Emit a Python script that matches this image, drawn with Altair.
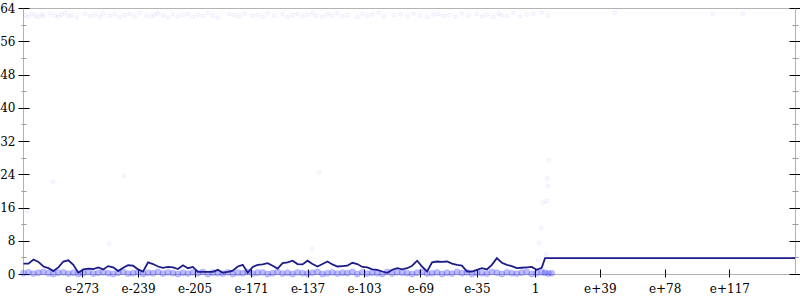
import altair as alt
import pandas as pd

# ---- data (x = decimal exponent, y = value) ----
line_x = [-308, -305, -302, -299, -296, -293, -290, -287, -284, -281,
          -278, -275, -272, -269, -266, -263, -260, -257, -254, -251,
          -248, -245, -242, -239, -236, -233, -230, -227, -224, -221,
          -218, -215, -212, -209, -206, -203, -200, -197, -194, -191,
          -188, -185, -182, -179, -176, -173, -170, -167, -164, -161,
          -158, -155, -152, -149, -146, -143, -140, -137, -134, -131,
          -128, -125, -122, -119, -116, -113, -110, -107, -104, -101,
          -98, -95, -92, -89, -86, -83, -80, -77, -74, -71,
          -68, -65, -62, -59, -56, -53, -50, -47, -44, -41,
          -38, -35, -32, -29, -26, -23, -20, -17, -14, -11,
          -8, -5, -2, 1, 4, 6, 156.5]
line_y = [2.5, 2.5, 3.5, 2.9, 1.8, 1.4, 0.7, 1.6, 3.0, 3.3,
          2.2, 0.3, 1.1, 1.3, 1.2, 1.6, 1.1, 1.9, 1.6, 0.7,
          1.5, 2.1, 2.0, 1.1, 0.6, 2.8, 2.4, 1.8, 1.5, 1.7,
          1.6, 1.2, 2.1, 1.4, 1.7, 0.5, 0.5, 0.5, 0.5, 1.0,
          0.3, 0.5, 0.8, 1.8, 2.2, 0.3, 1.7, 2.2, 2.3, 2.6,
          2.0, 1.3, 2.6, 2.8, 3.2, 2.4, 2.3, 3.2, 2.4, 1.8,
          2.4, 3.0, 2.3, 1.8, 1.9, 2.0, 2.7, 2.4, 1.7, 1.6,
          1.1, 1.0, 0.6, 0.3, 1.0, 1.4, 1.1, 1.4, 2.0, 3.2,
          1.8, 0.6, 2.8, 3.0, 2.9, 3.0, 2.5, 2.2, 2.0, 0.6,
          0.6, 1.0, 1.4, 1.1, 2.2, 3.8, 2.7, 2.2, 1.9, 1.4,
          1.5, 1.6, 1.7, 1.0, 1.5, 3.8, 3.8]

top_x = [-307, -305, -303, -301, -299, -297, -296, -292, -289, -287,
         -285, -283, -281, -279, -276, -271, -268, -265, -262, -260,
         -256, -253, -250, -247, -244, -241, -238, -234, -231, -229,
         -227, -224, -221, -218, -215, -212, -209, -206, -203, -200,
         -197, -194, -191, -184, -181, -178, -175, -170, -167, -164,
         -161, -157, -152, -149, -146, -143, -140, -137, -134, -132,
         -128, -125, -122, -119, -116, -113, -107, -104, -101, -98,
         -94, -91, -85, -81, -77, -73, -69, -65, -61, -58,
         -55, -52, -48, -44, -40, -35, -32, -29, -25, -22,
         -20, -17, -13, -9, -5, -1, 4, 8, 48, 107,
         125]
top_y = [62.3, 61.9, 62.6, 62.1, 61.8, 62.5, 62.0, 62.7, 62.2, 61.9,
         62.4, 62.8, 62.0, 62.3, 61.7, 62.6, 62.1, 62.4, 61.9, 62.7,
         62.2, 62.5, 61.8, 62.3, 62.6, 62.0, 62.8, 62.1, 61.9, 62.4,
         62.7, 62.2, 61.8, 62.5, 62.0, 62.3, 62.6, 61.9, 62.4, 62.1,
         62.8, 62.2, 61.7, 62.5, 62.3, 62.0, 62.6, 62.1, 62.4, 61.9,
         62.7, 62.2, 62.5, 61.8, 62.3, 62.6, 62.0, 62.4, 62.8, 62.1,
         61.9, 62.5, 62.2, 62.7, 62.0, 62.3, 61.8, 62.6, 62.1, 62.4,
         62.8, 61.9, 62.3, 62.5, 62.0, 62.7, 62.2, 61.8, 62.4, 62.6,
         62.1, 62.3, 61.9, 62.7, 62.2, 62.5, 62.0, 62.4, 61.8, 62.6,
         62.3, 62.1, 62.8, 62.0, 62.4, 62.6, 62.9, 62.2, 62.8, 62.6,
         62.7]

mid_x = [-305.8, -290.1, -256.4, -247.4, -134.2, -130.0, 1.8, 2.4, 3.6, 4.8, 6.6, 7.2, 7.2, 7.8, 8.4]
mid_y = [15.2, 22.2, 7.3, 23.6, 6.0, 24.4, 3.4, 7.5, 11.1, 17.2, 4.8, 17.6, 23.0, 21.2, 27.3]

bottom_x = line_x[:105] + [6, 8, 10]
bottom_y = [0.2, 0.4, 0.1, 0.3, 0.5, 0.2, 0.0, 0.3, 0.4, 0.1,
            0.3, 0.0, 0.2, 0.5, 0.1, 0.3, 0.4, 0.2, 0.0, 0.3,
            0.5, 0.1, 0.2, 0.4, 0.0, 0.3, 0.2, 0.5, 0.1, 0.4,
            0.2, 0.0, 0.3, 0.1, 0.4, 0.2, 0.5, 0.0, 0.3, 0.2,
            0.1, 0.4, 0.0, 0.3, 0.2, 0.5, 0.1, 0.3, 0.4, 0.0,
            0.2, 0.5, 0.1, 0.3, 0.0, 0.4, 0.2, 0.1, 0.3, 0.5,
            0.0, 0.2, 0.4, 0.1, 0.3, 0.2, 0.5, 0.0, 0.4, 0.1,
            0.3, 0.2, 0.0, 0.5, 0.1, 0.4, 0.3, 0.2, 0.0, 0.3,
            0.5, 0.1, 0.2, 0.4, 0.0, 0.3, 0.1, 0.5, 0.2, 0.4,
            0.0, 0.3, 0.2, 0.1, 0.5, 0.3, 0.0, 0.4, 0.2, 0.1,
            0.3, 0.5, 0.0, 0.2, 0.4, 0.3, 0.1, 0.2]

x_ticks = [-273, -239, -205, -171, -137, -103, -69, -35, 0, 39, 78, 117]
y_ticks = [0, 8, 16, 24, 32, 40, 48, 56, 64]
y_minor = [4, 12, 20, 28, 36, 44, 52, 60]

X_DOMAIN = [-308.3, 156.5]
Y_DOMAIN = [0, 64]

FONT = "DejaVu Serif"
AXIS_GRAY = "#b3b3b3"
MINOR = "#9a9a9a"

line_df = pd.DataFrame({"x": line_x, "y": line_y})
top_df = pd.DataFrame({"x": top_x, "y": top_y})
mid_df = pd.DataFrame({"x": mid_x, "y": mid_y})
bot_df = pd.DataFrame({"x": bottom_x, "y": bottom_y})

xs = alt.Scale(domain=X_DOMAIN, nice=False, zero=False)
ys = alt.Scale(domain=Y_DOMAIN, nice=False, zero=False)


def ax(orient, values, size, color, offset=0, labels=False, **kw):
    return alt.Axis(orient=orient, values=values, tickSize=size, tickColor=color,
                    tickWidth=1, offset=offset, labels=labels, domain=False,
                    grid=False, title=None, **kw)


lab = dict(labelFont=FONT, labelFontSize=12, labelColor="black")

y_left_major = ax("left", y_ticks, 5, "black", labels=True, labelPadding=3, **lab)
y_left_major_in = ax("left", y_ticks, 6, "black", offset=-6)
y_left_minor = ax("left", y_minor, 2, MINOR)
y_left_minor_in = ax("left", y_minor, 3, MINOR, offset=-3)
y_right_major = ax("right", y_ticks, 5, "black")
y_right_major_in = ax("right", y_ticks, 6, "black", offset=-6)
y_right_minor = ax("right", y_minor, 3, MINOR)
y_right_minor_in = ax("right", y_minor, 3, MINOR, offset=-3)

x_main = ax("bottom", x_ticks, 3, "black", labels=True, labelPadding=6,
            labelExpr="datum.value == 0 ? '1' : (datum.value < 0 ? 'e' + datum.value : 'e+' + datum.value)",
            labelFlush=False, labelOverlap=False, **lab)
x_in = ax("bottom", x_ticks, 5, "black", offset=-5)


def enc(base, yaxis, xaxis=None):
    return base.encode(
        x=alt.X("x:Q", scale=xs, axis=xaxis),
        y=alt.Y("y:Q", scale=ys, axis=yaxis),
    )


faint = dict(size=14, fill="#0000ff", fillOpacity=0.025, stroke="#0000ff",
             strokeOpacity=0.06, strokeWidth=1)
top_pts = enc(alt.Chart(top_df).mark_circle(**faint), y_left_major, x_main)
mid_pts = enc(alt.Chart(mid_df).mark_circle(**faint), y_left_major_in, x_in)
bot_pts = enc(alt.Chart(bot_df).mark_circle(
    size=40, fill="#2020ff", fillOpacity=0.3, stroke="#0000ff",
    strokeOpacity=0.08, strokeWidth=1), y_left_minor)
line = enc(alt.Chart(line_df).mark_line(color="#1c1c8a", strokeWidth=1.8),
           y_left_minor_in)

dummies = [enc(alt.Chart(line_df).mark_point(opacity=0), a)
           for a in (y_right_major, y_right_major_in, y_right_minor, y_right_minor_in)]

chart = alt.layer(top_pts, mid_pts, bot_pts, line, *dummies).resolve_axis(
    x="independent", y="independent"
).properties(
    width=772, height=266,
    autosize=alt.AutoSizeParams(type="none"),
    padding={"left": 23, "top": 8, "right": 5, "bottom": 26},
    background="white",
).configure_view(stroke=AXIS_GRAY, strokeWidth=1)

chart.save("out.html", embed_options={"renderer": "svg", "actions": False})
